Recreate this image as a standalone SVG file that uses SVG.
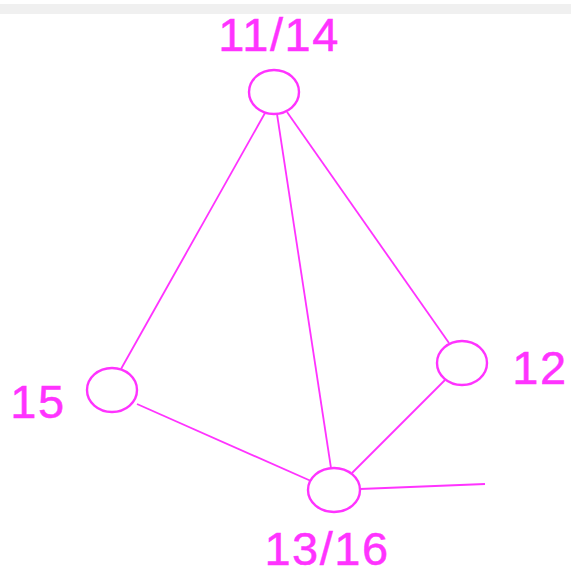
<svg xmlns="http://www.w3.org/2000/svg" width="571" height="570" viewBox="0 0 571 570">
<style>
.n{fill:none;stroke:#ff33ff;stroke-width:2.4}
.e{stroke:#ff33ff;stroke-width:1.8;fill:none}
.t{font-family:"Liberation Sans",Arial,sans-serif;font-size:47px;fill:#ff33ff;stroke:#ff33ff;stroke-width:0.5;text-anchor:middle;letter-spacing:1.5px}
</style>
<rect x="0" y="0" width="571" height="570" fill="#ffffff"/>
<rect x="0" y="4" width="571" height="10" fill="#f0f0f0"/>
<g id="connectors">
<line class="e" x1="265" y1="113" x2="121" y2="369"/>
<line class="e" x1="277" y1="114" x2="331" y2="468"/>
<line class="e" x1="287" y1="112" x2="449" y2="343"/>
<line class="e" x1="137" y1="404" x2="311" y2="481"/>
<line class="e" x1="445" y1="380" x2="352" y2="473"/>
<line class="e" x1="360" y1="489" x2="485" y2="484"/>
</g>
<g id="n1114">
<ellipse class="n" cx="274" cy="92" rx="25" ry="22"/>
<text class="t" x="279" y="51">11/14</text>
</g>
<g id="n15">
<ellipse class="n" cx="112" cy="390" rx="25" ry="22"/>
<text class="t" x="38" y="418">15</text>
</g>
<g id="n12">
<ellipse class="n" cx="462" cy="363" rx="25" ry="22"/>
<text class="t" x="540" y="384">12</text>
</g>
<g id="n1316">
<ellipse class="n" cx="334" cy="490" rx="26" ry="22"/>
<text class="t" x="327" y="565">13/16</text>
</g>
</svg>
